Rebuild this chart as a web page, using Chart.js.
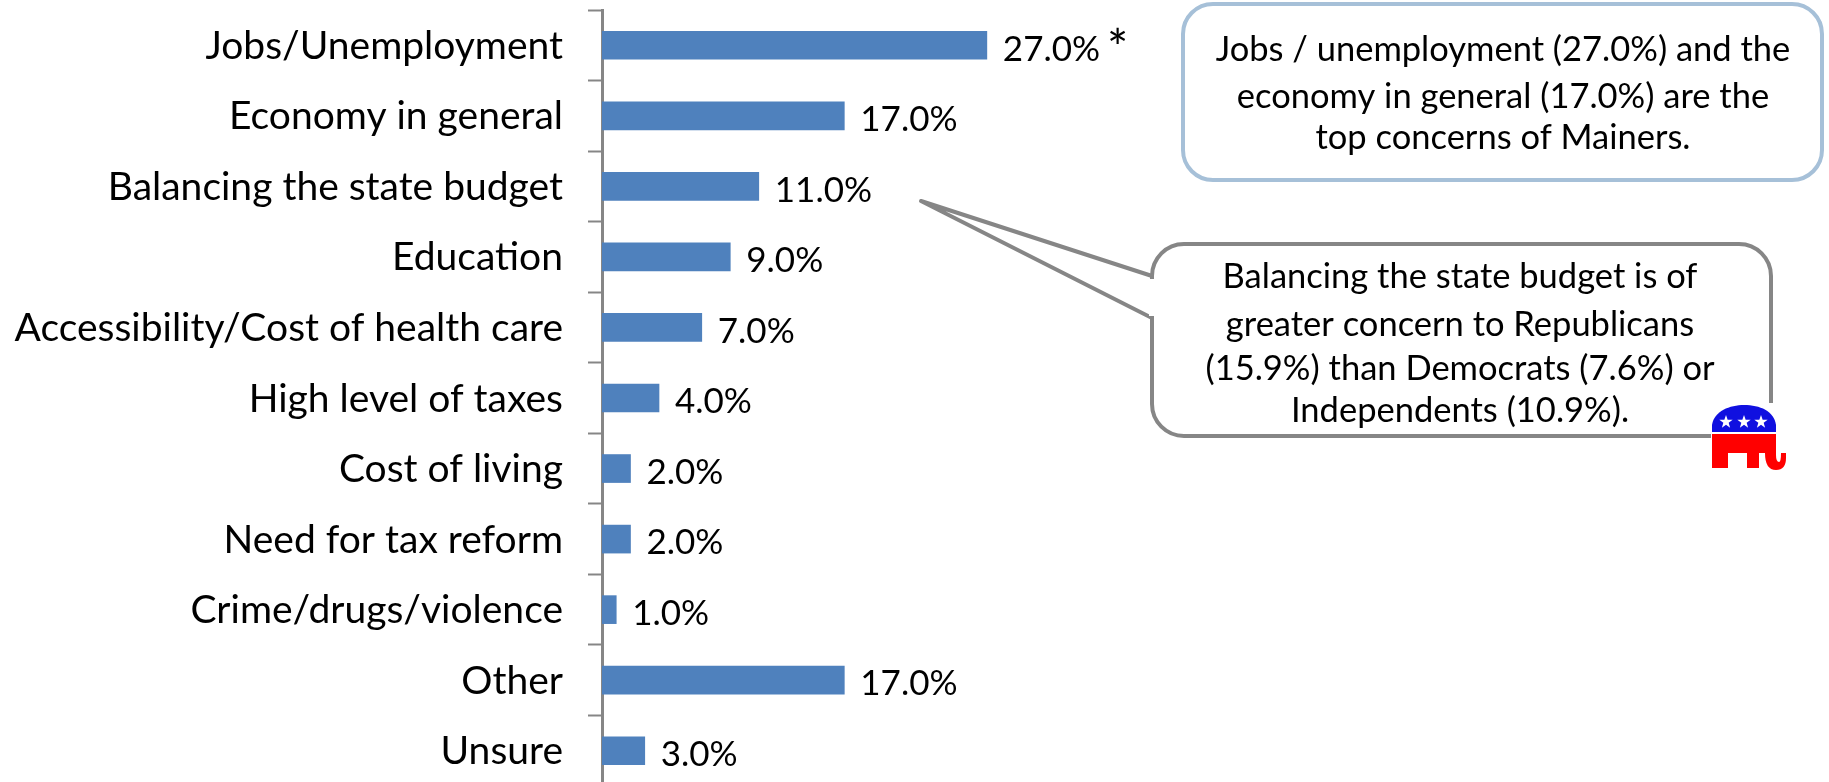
<!DOCTYPE html>
<html>
<head>
<meta charset="utf-8">
<style>
  html, body { margin: 0; padding: 0; background: #fff; overflow: hidden; }
  #wrap { width: 1829px; height: 782px; overflow: hidden; }
  canvas { display: block; }
</style>
<script src="https://cdn.jsdelivr.net/npm/chart.js@4/dist/chart.umd.min.js"></script>
</head>
<body>
<div id="wrap"><canvas id="concernsChart" width="1829" height="786"></canvas></div>
<script>
const categories = [
  "Jobs/Unemployment",
  "Economy in general",
  "Balancing the state budget",
  "Education",
  "Accessibility/Cost of health care",
  "High level of taxes",
  "Cost of living",
  "Need for tax reform",
  "Crime/drugs/violence",
  "Other",
  "Unsure",
];
const percentages = [27, 17, 11, 9, 7, 4, 2, 2, 1, 17, 3];

const topNote = [
  "Jobs / unemployment (27.0%) and the",
  "economy in general (17.0%) are the",
  "top concerns of Mainers.",
];
const budgetNote = [
  "Balancing the state budget is of",
  "greater concern to Republicans",
  "(15.9%) than Democrats (7.6%) or",
  "Independents (10.9%).",
];

const labelFont = "Lato, Carlito, sans-serif";
const axisGrey = "#868686";

// Value labels plus the asterisk on the first bar
const valueLabels = {
  id: "valueLabels",
  afterDatasetsDraw(chart) {
    const { ctx, scales } = chart;
    ctx.save();
    ctx.fillStyle = "#000";
    ctx.textBaseline = "middle";
    ctx.textAlign = "left";
    ctx.font = "35px " + labelFont;
    percentages.forEach((v, i) => {
      ctx.fillText(v.toFixed(1) + "%", scales.x.getPixelForValue(v) + 16, scales.y.getPixelForValue(i) + 4);
    });
    ctx.font = "50px " + labelFont;
    ctx.fillText("*", 1107, 50);
    ctx.restore();
  },
};

function bubble(ctx, x, y, w, h, r, color) {
  ctx.beginPath();
  ctx.roundRect(x, y, w, h, r);
  ctx.fillStyle = "#fff";
  ctx.fill();
  ctx.strokeStyle = color;
  ctx.lineWidth = 4;
  ctx.stroke();
}

function noteText(ctx, lines, cx, ys) {
  ctx.fillStyle = "#000";
  ctx.font = "34.5px " + labelFont;
  ctx.textAlign = "center";
  ctx.textBaseline = "middle";
  lines.forEach((line, i) => ctx.fillText(line, cx, ys[i]));
}

function elephant(ctx) {
  // white patch hides the corner of the callout
  ctx.fillStyle = "#fff";
  ctx.fillRect(1711, 403, 80, 68);
  // blue back
  ctx.fillStyle = "#1010e0";
  ctx.beginPath();
  ctx.moveTo(1712, 432);
  ctx.lineTo(1712, 425);
  ctx.bezierCurveTo(1714, 411, 1730, 405, 1744, 405);
  ctx.bezierCurveTo(1760, 405, 1774, 411, 1776, 425);
  ctx.lineTo(1776, 432);
  ctx.closePath();
  ctx.fill();
  // stars
  ctx.fillStyle = "#fff";
  [1726, 1744, 1761].forEach((cx) => {
    ctx.beginPath();
    for (let i = 0; i < 10; i++) {
      const r = i % 2 ? 2.8 : 7;
      const a = -Math.PI / 2 + (i * Math.PI) / 5;
      ctx.lineTo(cx + r * Math.cos(a), 422 + r * Math.sin(a));
    }
    ctx.closePath();
    ctx.fill();
  });
  // red body, legs and trunk
  ctx.fillStyle = "#ff0000";
  ctx.beginPath();
  ctx.moveTo(1712, 434);
  ctx.lineTo(1776, 434);
  ctx.lineTo(1776, 455);
  ctx.quadraticCurveTo(1776, 462, 1779, 462);
  ctx.quadraticCurveTo(1781, 462, 1781, 453);
  ctx.lineTo(1786, 453);
  ctx.lineTo(1786, 458);
  ctx.quadraticCurveTo(1786, 470, 1776, 470);
  ctx.quadraticCurveTo(1765, 470, 1765, 453);
  ctx.lineTo(1759, 453);
  ctx.lineTo(1759, 468);
  ctx.lineTo(1747, 468);
  ctx.lineTo(1747, 453);
  ctx.lineTo(1728, 453);
  ctx.lineTo(1728, 468);
  ctx.lineTo(1712, 468);
  ctx.closePath();
  ctx.fill();
}

// Two callouts, drawn over the plot
const callouts = {
  id: "callouts",
  afterDraw(chart) {
    const ctx = chart.ctx;
    ctx.save();
    bubble(ctx, 1183, 4, 639, 176, 30, "#a6c0d8");
    noteText(ctx, topNote, 1503, [50, 97, 138]);

    bubble(ctx, 1152, 244, 619, 192, 32, axisGrey);
    // tail to the budget bar
    ctx.beginPath();
    ctx.moveTo(1152, 276);
    ctx.lineTo(921, 201);
    ctx.lineTo(1152, 318);
    ctx.strokeStyle = axisGrey;
    ctx.lineWidth = 4;
    ctx.lineJoin = "round";
    ctx.stroke();
    ctx.fillStyle = "#fff";
    ctx.fillRect(1149, 279, 7, 37);
    noteText(ctx, budgetNote, 1460, [277, 325, 369, 411]);
    elephant(ctx);
    ctx.restore();
  },
};

new Chart(document.getElementById("concernsChart"), {
  type: "bar",
  data: {
    labels: categories,
    datasets: [
      {
        data: percentages,
        backgroundColor: "#4f81bd",
        barThickness: 28,
      },
    ],
  },
  options: {
    indexAxis: "y",
    responsive: false,
    animation: false,
    layout: { padding: { top: 10, right: 654, bottom: 0, left: 0 } },
    plugins: { legend: { display: false }, tooltip: { enabled: false } },
    scales: {
      x: { display: false, min: 0, max: 40.2 },
      y: {
        afterFit(scale) {
          scale.width = 602;
          scale.paddingTop = 0;
          scale.paddingBottom = 0;
        },
        border: { color: axisGrey, width: 3 },
        grid: { drawOnChartArea: false, tickLength: 14, tickColor: axisGrey, tickWidth: 2 },
        ticks: {
          color: "#000",
          padding: 25,
          labelOffset: 1,
          autoSkip: false,
          font: { family: labelFont, size: 39 },
        },
      },
    },
  },
  plugins: [valueLabels, callouts],
});
</script>
</body>
</html>
